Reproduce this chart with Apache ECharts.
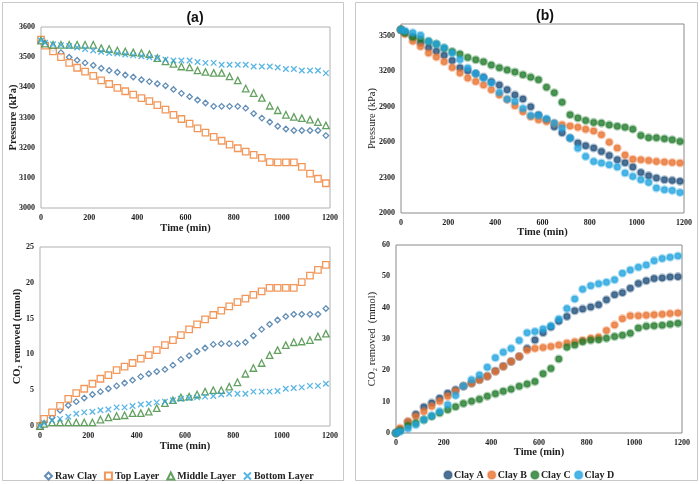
<!DOCTYPE html>
<html><head><meta charset="utf-8">
<script src="https://cdn.jsdelivr.net/npm/echarts@6/dist/echarts.min.js"></script>
<style>html,body{margin:0;padding:0;background:#fff}#c{width:700px;height:484px}</style>
</head><body><div id="c"></div>
<script>
const time = [0,17,50,83,117,150,183,217,250,283,317,350,383,417,450,483,517,550,583,617,650,683,717,750,783,817,850,883,917,950,983,1017,1050,1083,1117,1150,1183];
// Panel (a) pressure (kPa)
const pRaw = [3555,3545,3528,3515,3500,3490,3481,3473,3463,3456,3450,3441,3434,3425,3419,3412,3405,3393,3380,3369,3358,3348,3337,3337,3337,3337,3331,3313,3298,3285,3271,3262,3257,3257,3257,3257,3240];
const pTop = [3558,3538,3519,3500,3481,3465,3452,3438,3423,3411,3398,3387,3376,3364,3354,3341,3326,3309,3295,3280,3264,3250,3236,3223,3210,3198,3187,3176,3166,3152,3151,3151,3151,3136,3114,3097,3082];
const pMid = [3555,3545,3541,3541,3541,3541,3541,3541,3530,3527,3522,3519,3516,3514,3510,3497,3486,3478,3469,3466,3456,3451,3448,3448,3436,3423,3396,3381,3365,3339,3324,3309,3302,3298,3293,3285,3274];
const pBot = [3555,3548,3543,3540,3537,3532,3527,3522,3518,3514,3512,3509,3506,3503,3500,3497,3492,3489,3489,3489,3484,3481,3481,3475,3475,3475,3475,3469,3469,3469,3466,3461,3461,3456,3456,3456,3447];
// Panel (a) CO2 removed (mmol)
const cRaw = [0,0.5,1.2,2.2,2.9,3.4,3.9,4.4,4.8,5.2,5.6,6.0,6.4,6.9,7.3,7.6,7.9,8.5,9.3,9.8,10.4,10.9,11.4,11.5,11.5,11.5,11.7,12.6,13.5,14.2,14.8,15.3,15.6,15.6,15.6,15.6,16.4];
const cTop = [0,1.0,1.9,2.8,3.8,4.6,5.2,5.9,6.6,7.1,7.8,8.3,8.8,9.4,9.9,10.6,11.3,12.0,12.7,13.5,14.2,14.9,15.5,16.1,16.7,17.3,17.8,18.3,18.8,19.3,19.3,19.3,19.3,20.1,21.0,21.8,22.5];
const cMid = [0,0.3,0.5,0.5,0.5,0.5,0.5,0.5,0.9,1.2,1.4,1.5,1.8,1.8,2.0,2.5,3.2,3.6,4.0,4.1,4.4,4.8,5.0,5.0,5.5,6.1,7.3,8.1,8.8,9.9,10.6,11.3,11.7,11.8,12.0,12.5,12.9];
const cBot = [0,0.4,0.8,1.0,1.3,1.7,1.9,2.0,2.2,2.3,2.6,2.6,2.8,3.0,3.1,3.3,3.4,3.6,3.8,3.9,4.0,4.1,4.2,4.4,4.5,4.5,4.5,4.8,4.8,4.8,4.9,5.2,5.3,5.4,5.6,5.6,5.9];
// Panel (b) pressure (kPa)
const pA = [3551,3530,3490,3440,3400,3370,3335,3290,3230,3205,3180,3150,3112,3083,3043,3000,2965,2900,2830,2790,2730,2680,2634,2592,2569,2550,2521,2487,2451,2425,2389,2343,2316,2296,2282,2276,2268];
const pB = [3551,3515,3455,3410,3355,3320,3280,3232,3185,3142,3114,3083,3043,3000,2960,2908,2858,2815,2790,2775,2760,2747,2737,2725,2708,2695,2662,2600,2550,2490,2455,2451,2445,2437,2432,2428,2423];
const pC = [3551,3525,3489,3472,3452,3430,3395,3367,3345,3317,3297,3280,3252,3229,3210,3193,3170,3150,3128,3064,3018,2937,2832,2804,2783,2767,2761,2746,2735,2726,2710,2657,2638,2636,2628,2620,2606];
const pD = [3551,3540,3525,3505,3455,3430,3400,3355,3300,3227,3180,3142,3100,3021,2964,2944,2885,2826,2826,2798,2761,2719,2634,2548,2479,2437,2423,2409,2389,2338,2310,2282,2259,2211,2197,2191,2174];
// Panel (b) CO2 removed (mmol)
const cA = [0,1.0,3.5,6.0,8.3,9.6,11.1,12.7,13.8,14.9,15.9,17.0,18.1,19.8,21.3,22.8,24.4,27.0,29.7,32.0,33.8,35.7,37.2,39.0,39.6,40.2,40.9,42.5,44.1,44.8,46.2,47.7,48.6,49.3,49.5,49.8,49.9];
const cB = [0,1.6,3.7,5.3,6.9,8.5,10.1,11.7,13.3,15.0,15.9,17.0,18.1,19.6,21.2,22.8,24.4,26.4,27.0,27.3,27.6,28.1,28.7,29.1,29.6,30.2,30.6,32.7,34.5,36.5,37.4,37.4,37.6,37.7,37.9,38.1,38.3];
const cC = [0,0.8,2.3,3.2,4.2,5.3,6.4,7.4,8.4,9.4,10.1,10.8,11.7,12.5,13.3,14.0,14.9,15.6,16.4,18.9,20.6,23.6,27.4,28.1,29.1,29.6,29.8,30.2,30.8,31.2,31.8,33.5,34.1,34.2,34.4,34.7,35.0];
const cD = [0,0.5,1.4,2.6,4.2,5.5,6.9,9.0,12.0,15.0,17.0,18.5,21.0,24.0,25.8,27.0,29.5,32.0,32.4,33.2,34.2,36.4,39.7,42.8,45.9,47.0,47.6,48.1,48.9,51.0,52.0,52.9,53.6,55.0,55.7,56.1,56.5];

const namesA = ['Raw Clay','Top Layer','Middle Layer','Bottom Layer'];
const namesB = ['Clay A','Clay B','Clay C','Clay D'];

const SERIF = '"Liberation Serif", "DejaVu Serif", serif';
const pairs = v => time.map((t,i)=>[t,v[i]]);

const colA = ['#3A70A3','#ED7D31','#3C8A3A','#2FA3DC'];
const symA = ['diamond','rect','triangle','path://M0,0L10,10M10,0L0,10'];
const sizeA = [5.5,6.5,6.5,5.5];

const colB = ['#1F4E79','#E8722E','#217A2B','#1FA3DE'];
const haloB = ['rgba(31,78,121,0.45)','rgba(232,114,46,0.45)','rgba(33,122,43,0.45)','rgba(31,163,222,0.45)'];

function xAxis(g){
  return {type:'value', gridIndex:g, min:0, max:1200, interval:200,
    name:'Time (min)', nameLocation:'middle', nameGap: g<2?15:14, nameMoveOverlap:false,
    nameTextStyle:{fontFamily:SERIF, fontWeight:'bold', fontSize:10.5, color:'#222'},
    axisLine:{show:false}, axisTick:{show:false}, splitLine:{show:false},
    axisLabel:{fontFamily:SERIF, fontWeight:'bold', fontSize:8, color:'#222', margin:6, formatter: v => String(v)}};
}
function yAxis(g, min, max, interval, name, bold, gap){
  return {type:'value', gridIndex:g, min, max, interval,
    name, nameLocation:'middle', nameGap:gap, nameMoveOverlap:false,
    nameTextStyle:{fontFamily:SERIF, fontWeight:bold?'bold':'normal', fontSize:10.5, color:'#222'},
    axisLine:{show:false}, axisTick:{show:false}, splitLine:{show:false},
    axisLabel:{fontFamily:SERIF, fontWeight:'bold', fontSize:8, color:'#222', margin:6,
      showMaxLabel: g===2?false:null, formatter: v => String(v)}};
}

const series = [];
[[pRaw,cRaw],[pTop,cTop],[pMid,cMid],[pBot,cBot]].forEach((pc,k)=>{
  [0,1].forEach(j=>{
    series.push({type:'scatter', name:namesA[k], xAxisIndex:j, yAxisIndex:j,
      data:pairs(pc[j]), symbol:symA[k], symbolSize:sizeA[k],
      itemStyle:{color: k===3?'rgba(0,0,0,0)':'#fff', borderColor:colA[k], borderWidth:1.3},
      emphasis:{disabled:true}, z: 2+k});
  });
});
[[pA,cA],[pB,cB],[pC,cC],[pD,cD]].forEach((pc,k)=>{
  [0,1].forEach(j=>{
    series.push({type:'scatter', name:namesB[k], xAxisIndex:2+j, yAxisIndex:2+j,
      data:pairs(pc[j]), symbol:'circle', symbolSize:6.5,
      itemStyle:{color:colB[k], borderColor:haloB[k], borderWidth:2.6},
      emphasis:{disabled:true}});
  });
});

const chart = echarts.init(document.getElementById('c'), null, {renderer:'canvas'});
chart.setOption({
  animation:false,
  backgroundColor:'#fff',
  title:[
    {text:'(a)', left:190, top:6, textAlign:'center', textStyle:{fontFamily:'"Liberation Sans", Arial, sans-serif', fontWeight:'bold', fontSize:14, color:'#111'}},
    {text:'(b)', left:540, top:4, textAlign:'center', textStyle:{fontFamily:'"Liberation Sans", Arial, sans-serif', fontWeight:'bold', fontSize:14, color:'#111'}}
  ],
  graphic:[
    {type:'rect', shape:{x:2.5,y:2.5,width:341,height:478}, style:{fill:'none', stroke:'#C8C8C8', lineWidth:1}, silent:true},
    {type:'rect', shape:{x:355.5,y:2.5,width:342,height:478}, style:{fill:'none', stroke:'#C8C8C8', lineWidth:1}, silent:true}
  ],
  grid:[
    {left:41, top:27, width:289, height:181, show:true, borderColor:'#B0B0B0', borderWidth:1, containLabel:false},
    {left:40, top:247, width:290, height:179, show:true, borderColor:'#B0B0B0', borderWidth:1, containLabel:false},
    {left:401, top:24, width:283, height:189, show:true, borderColor:'#8A8A8A', borderWidth:1, containLabel:false},
    {left:396, top:245, width:286, height:188, show:true, borderColor:'#8A8A8A', borderWidth:1, containLabel:false}
  ],
  xAxis:[xAxis(0),xAxis(1),xAxis(2),xAxis(3)],
  yAxis:[
    yAxis(0,3000,3600,100,'Pressure (kPa)',true,22),
    yAxis(1,0,25,5,'CO\u2082 removed (mmol)',true,17),
    yAxis(2,2000,3600,300,'Pressure (kPa)',false,23),
    yAxis(3,0,60,10,'CO\u2082 removed  (mmol)',false,18)
  ],
  legend:[
    {data:namesA, left:39, top:466, itemWidth:7, itemHeight:7, itemGap:7,
      textStyle:{fontFamily:SERIF, fontWeight:'bold', fontSize:10, color:'#222', padding:[0,0,0,-2]}},
    {data:namesB, left:438, top:465, itemWidth:8, itemHeight:8, itemGap:3,
      textStyle:{fontFamily:SERIF, fontWeight:'bold', fontSize:10, color:'#222', padding:[0,0,0,-3]}}
  ],
  series
});
</script></body></html>
